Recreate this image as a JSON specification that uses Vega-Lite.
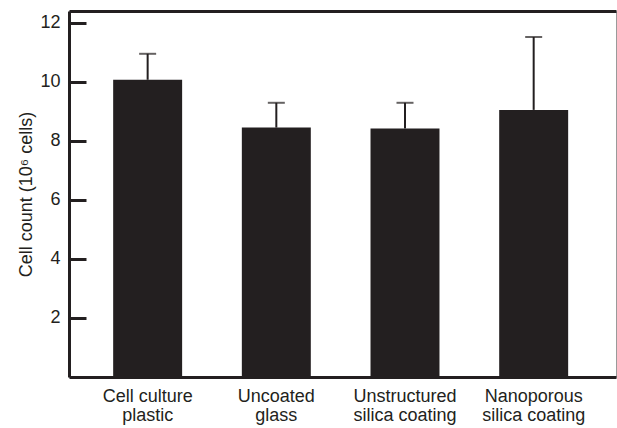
{
  "$schema": "https://vega.github.io/schema/vega-lite/v6.json",
  "width": 547,
  "height": 366,
  "autosize": "none",
  "padding": {"left": 69, "top": 11, "right": 1, "bottom": 51},
  "background": "white",
  "config": {
    "view": {"stroke": "#9a9a9a", "strokeWidth": 1},
    "font": "Liberation Sans",
    "axis": {"labelFont": "Liberation Sans", "titleFont": "Liberation Sans", "labelColor": "#231f20", "titleColor": "#231f20"}
  },
  "data": {
    "values": [
      {"surface": "Cell culture\nplastic", "mean": 10.07, "upper": 10.95},
      {"surface": "Uncoated\nglass", "mean": 8.45, "upper": 9.29},
      {"surface": "Unstructured\nsilica coating", "mean": 8.42, "upper": 9.29},
      {"surface": "Nanoporous\nsilica coating", "mean": 9.05, "upper": 11.52}
    ]
  },
  "resolve": {"axis": {"x": "independent"}},
  "layer": [
    {
      "mark": {"type": "bar", "color": "#231f20"},
      "encoding": {
        "x": {
          "field": "surface", "type": "nominal", "sort": null,
          "scale": {"paddingInner": 0.464, "paddingOuter": 0.3575, "align": 0.48},
          "axis": {
            "orient": "bottom", "title": null, "labelAngle": 0, "ticks": false,
            "labelExpr": "split(datum.label, '\\n')",
            "labelFontSize": 18, "labelLineHeight": 19, "labelPadding": 10,
            "labelBaseline": "top",
            "domainColor": "#231f20", "domainWidth": 3
          }
        },
        "y": {
          "field": "mean", "type": "quantitative",
          "scale": {"domain": [0, 12.4], "nice": false, "zero": true},
          "axis": {
            "title": "Cell count (10⁶ cells)", "titleFontSize": 18, "titleFontWeight": "normal",
            "titlePadding": 4,
            "values": [2, 4, 6, 8, 10, 12], "grid": false,
            "labelFontSize": 18, "labelPadding": 26,
            "tickSize": -17, "tickWidth": 3, "tickColor": "#231f20",
            "domainColor": "#231f20", "domainWidth": 3
          }
        }
      }
    },
    {
      "mark": {"type": "rule", "color": "#231f20", "strokeWidth": 2},
      "encoding": {
        "x": {
          "field": "surface", "type": "nominal", "sort": null,
          "axis": {"orient": "top", "title": null, "labels": false, "ticks": false, "domainColor": "#231f20", "domainWidth": 3}
        },
        "y": {"field": "mean", "type": "quantitative"},
        "y2": {"field": "upper"}
      }
    },
    {
      "mark": {"type": "tick", "color": "#231f20", "size": 17, "thickness": 2, "orient": "horizontal"},
      "encoding": {
        "x": {"field": "surface", "type": "nominal", "sort": null, "axis": null},
        "y": {"field": "upper", "type": "quantitative"}
      }
    }
  ]
}
